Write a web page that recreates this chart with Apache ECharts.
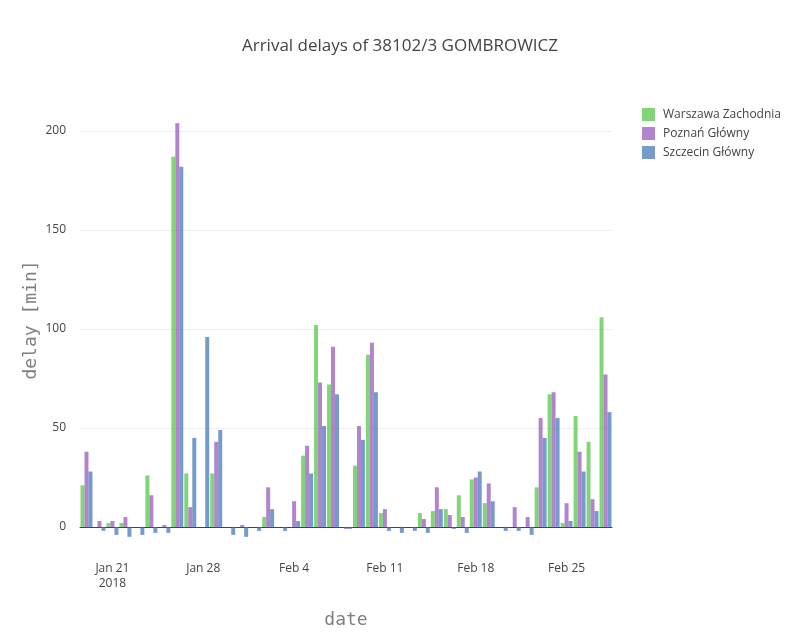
<!DOCTYPE html>
<html>
  <head>
    <meta charset="utf-8" />
    <title>Arrival delays</title>
    <script src="https://cdn.jsdelivr.net/npm/echarts@6/dist/echarts.min.js"></script>
    <style>
      html, body { margin: 0; padding: 0; background: #fff; }
      #main { width: 800px; height: 640px; }
    </style>
  </head>
  <body>
    <div id="main"></div>
    <script type="text/javascript">
// days of the run, one bar group each
let days = [
  '2018-01-19', '2018-01-20', '2018-01-21', '2018-01-22', '2018-01-23', '2018-01-24', '2018-01-25',
  '2018-01-26', '2018-01-27', '2018-01-28', '2018-01-29', '2018-01-30', '2018-01-31', '2018-02-01',
  '2018-02-02', '2018-02-03', '2018-02-04', '2018-02-05', '2018-02-06', '2018-02-07', '2018-02-08',
  '2018-02-09', '2018-02-10', '2018-02-11', '2018-02-12', '2018-02-13', '2018-02-14', '2018-02-15',
  '2018-02-16', '2018-02-17', '2018-02-18', '2018-02-19', '2018-02-20', '2018-02-21', '2018-02-22',
  '2018-02-23', '2018-02-24', '2018-02-25', '2018-02-26', '2018-02-27', '2018-02-28'
];
// delays in minutes
let warszawa = [21, 0, 2, 2, 0, 26, 0, 187, 27, 0, 27, 0, 0, 0, 5, 0, 0, 36, 102, 72, 0,
  31, 87, 7, 0, 0, 7, 8, 9, 16, 24, 12, 0, 0, 0, 20, 67, 2, 56, 43, 106];
let poznan = [38, 3, 3, 5, 0, 16, 1, 204, 10, 0, 43, 0, 1, 0, 20, 0, 13, 41, 73, 91, -1,
  51, 93, 9, 0, 0, 4, 20, 6, 5, 25, 22, 0, 10, 5, 55, 68, 12, 38, 14, 77];
let szczecin = [28, -2, -4, -5, -4, -3, -3, 182, 45, 96, 49, -4, -5, -2, 9, -2, 3, 27, 51, 67, -1,
  44, 68, -2, -3, -2, -3, 9, -1, -3, 28, 13, -2, -2, -4, 45, 55, 3, 28, 8, 58];
// x tick labels shown every week
let tickDays = ['2018-01-21', '2018-01-28', '2018-02-04', '2018-02-11', '2018-02-18', '2018-02-25'];
let seriesNames = ['Warszawa Zachodnia', 'Poznań Główny', 'Szczecin Główny'];
let colors = ['#4cc23f', '#9050b8', '#3d6fb8'];

const months = ['Jan', 'Feb', 'Mar', 'Apr', 'May', 'Jun', 'Jul', 'Aug', 'Sep', 'Oct', 'Nov', 'Dec'];
function dayLabel(d) {
  let p = d.split('-');
  let s = months[parseInt(p[1], 10) - 1] + ' ' + parseInt(p[2], 10);
  if (d === tickDays[0]) s += '\n' + p[0];
  return s;
}

var myChart = echarts.init(document.getElementById('main'));
var font = 'Open Sans';

function barSeries(i, values) {
  return {
    name: seriesNames[i],
    type: 'bar',
    barGap: '0%',
    barCategoryGap: '8%',
    itemStyle: { color: colors[i], opacity: 0.7 },
    data: values
  };
}

option = {
  animation: false,
  title: {
    text: 'Arrival delays of 38102/3 GOMBROWICZ',
    left: 'center',
    top: 33,
    textStyle: { fontFamily: font, fontSize: 17, fontWeight: 'normal', color: '#444' }
  },
  legend: {
    orient: 'vertical',
    left: 637,
    top: 103,
    itemWidth: 13,
    itemHeight: 13,
    itemGap: 6,
    icon: 'rect',
    textStyle: { fontFamily: font, fontSize: 12, color: '#444', padding: [0, 0, 0, 3] },
    data: seriesNames
  },
  grid: { left: 80, right: 188, top: 100, bottom: 100, containLabel: false },
  xAxis: {
    type: 'category',
    data: days,
    name: 'date',
    nameLocation: 'middle',
    nameGap: 71,
    nameMoveOverlap: false,
    nameTextStyle: { fontFamily: 'DejaVu Sans Mono', fontSize: 18, color: '#7f7f7f' },
    axisTick: { show: false },
    axisLine: { onZero: true, lineStyle: { color: '#444', width: 1 } },
    axisLabel: {
      interval: function (index, value) { return tickDays.indexOf(value) >= 0; },
      formatter: dayLabel,
      margin: 21,
      fontFamily: font,
      fontSize: 12,
      color: '#444',
      lineHeight: 15
    }
  },
  yAxis: {
    type: 'value',
    min: -6.6,
    max: 215.7,
    splitNumber: 5,
    name: 'delay [min]',
    nameLocation: 'middle',
    nameGap: 40,
    nameMoveOverlap: false,
    nameTextStyle: { fontFamily: 'DejaVu Sans Mono', fontSize: 18, color: '#7f7f7f' },
    axisLine: { show: false },
    axisTick: { show: false },
    axisLabel: {
      showMinLabel: false,
      showMaxLabel: false,
      margin: 14,
      fontFamily: font,
      fontSize: 12,
      color: '#444'
    },
    splitLine: {
      showMinLine: false,
      showMaxLine: false,
      lineStyle: { color: '#eee', width: 1 }
    }
  },
  series: [
    barSeries(0, warszawa),
    barSeries(1, poznan),
    barSeries(2, szczecin)
  ]
};
myChart.setOption(option);
    </script>
  </body>
</html>
